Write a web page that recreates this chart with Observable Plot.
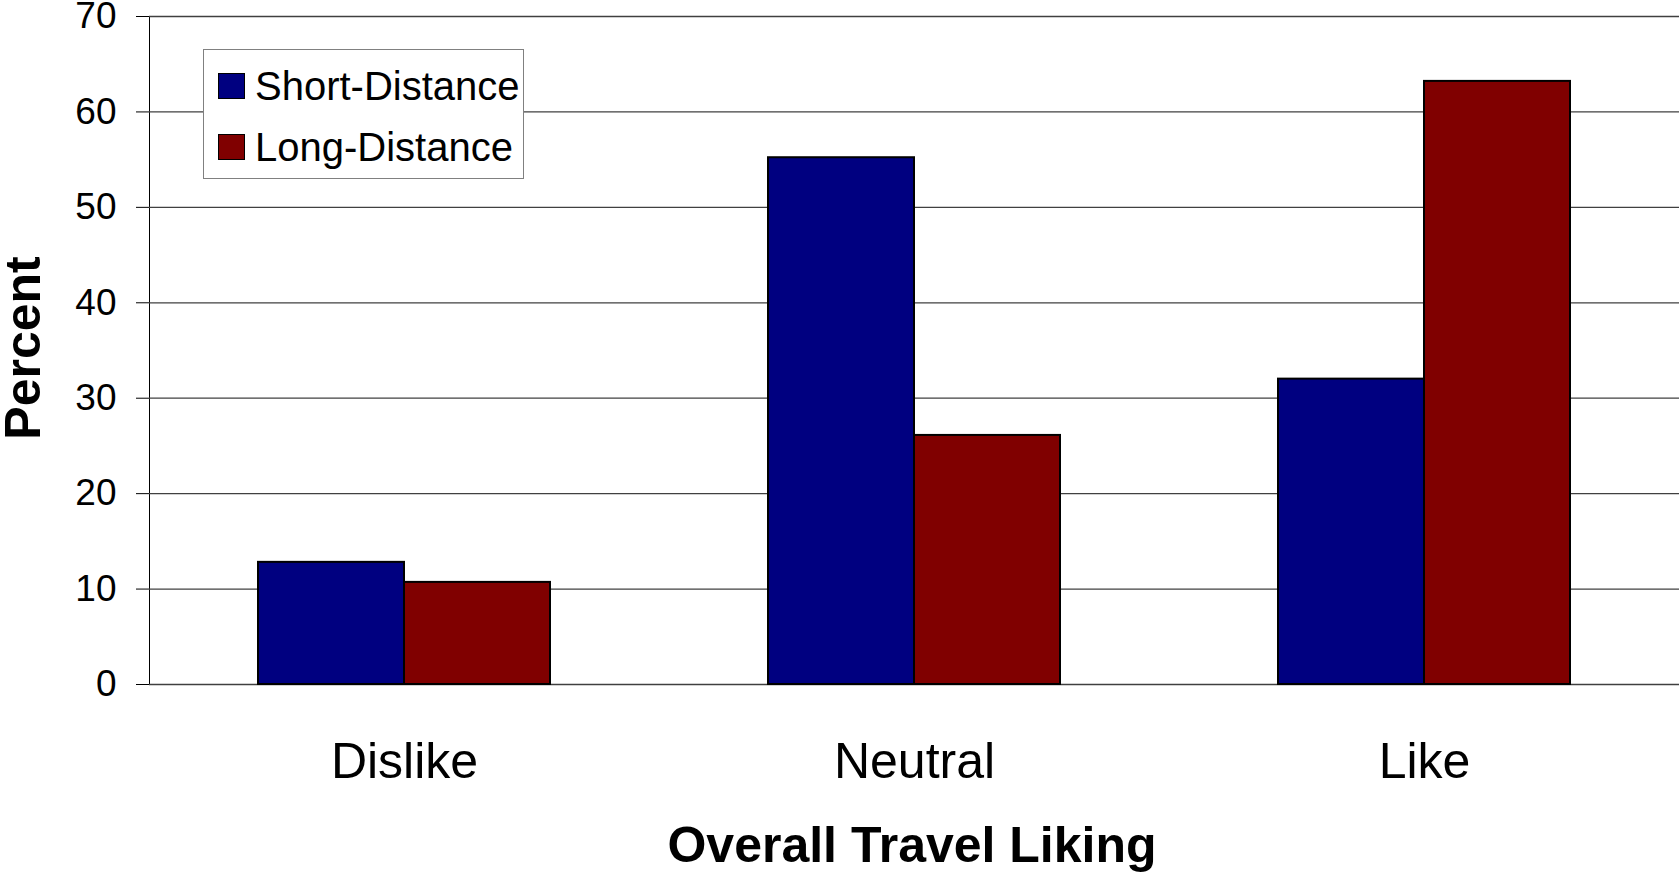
<!DOCTYPE html>
<html>
<head>
<meta charset="utf-8">
<script src="https://cdn.jsdelivr.net/npm/d3@7"></script>
<script src="https://cdn.jsdelivr.net/npm/@observablehq/plot@0.6"></script>
<style>
  html, body { margin: 0; padding: 0; background: #fff; }
  #wrap { position: relative; width: 1679px; height: 873px; font-family: "Liberation Sans", Arial, sans-serif; color: #000; }
  #wrap svg { position: absolute; left: 0; top: 0; }
  .title { position: absolute; font-weight: bold; font-size: 50px; line-height: 1; white-space: nowrap; }
  #ytitle { left: 23px; top: 348px; transform: translate(-50%, -50%) rotate(-90deg); }
  #xtitle { left: 912px; top: 845px; transform: translate(-50%, -50%); }
  #legend { position: absolute; left: 203px; top: 49px; width: 319px; height: 128px; background: #fff; border: 1px solid #808080; }
  .item { position: absolute; left: 14px; height: 28px; display: flex; align-items: center; font-size: 40px; line-height: 1; white-space: nowrap; }
  .sw { width: 25px; height: 24px; border: 1.5px solid #000; margin-right: 10px; flex: none; }
</style>
</head>
<body>
<div id="wrap"></div>
<script>
// Share of respondents by overall travel liking, short- vs long-distance trips
const categories = ["Dislike", "Neutral", "Like"];
const series = ["Short-Distance", "Long-Distance"];
const shortDistance = [12.8, 55.2, 32.0];
const longDistance = [10.7, 26.1, 63.2];
const seriesColors = ["#000080", "#800000"];
const yTicks = [0, 10, 20, 30, 40, 50, 60, 70];

const rows = categories.flatMap((c, i) => [
  {category: c, series: series[0], value: shortDistance[i]},
  {category: c, series: series[1], value: longDistance[i]}
]);

const chart = Plot.plot({
  width: 1679,
  height: 873,
  marginLeft: 148,
  marginRight: 0,
  marginTop: 16,
  marginBottom: 189,
  style: {fontFamily: "'Liberation Sans', Arial, sans-serif", fontSize: "37px", color: "#000", background: "transparent", overflow: "visible"},
  fx: {domain: categories, padding: 0, axis: null},
  x: {domain: series, paddingInner: 0, paddingOuter: 0.74, axis: null},
  y: {domain: [0, 70], ticks: yTicks, tickSize: 13, tickPadding: 20, label: null, line: true},
  color: {domain: series, range: seriesColors},
  marks: [
    Plot.ruleY(yTicks, {stroke: "#404040", strokeWidth: 1.3}),
    Plot.barY(rows, {fx: "category", x: "series", y: "value", fill: "series", stroke: "#000", strokeWidth: 2}),
    Plot.text(categories, {fx: d => d, text: d => d, frameAnchor: "bottom", dy: 77, fontSize: 50, lineAnchor: "middle"})
  ]
});
const wrap = document.getElementById("wrap");
wrap.appendChild(chart);

const yTitle = document.createElement("div");
yTitle.className = "title"; yTitle.id = "ytitle"; yTitle.textContent = "Percent";
wrap.appendChild(yTitle);
const xTitle = document.createElement("div");
xTitle.className = "title"; xTitle.id = "xtitle"; xTitle.textContent = "Overall Travel Liking";
wrap.appendChild(xTitle);

const legend = document.createElement("div");
legend.id = "legend";
series.forEach((s, i) => {
  const item = document.createElement("div");
  item.className = "item";
  item.style.top = (i === 0 ? 22 : 83) + "px";
  const sw = document.createElement("span");
  sw.className = "sw";
  sw.style.background = seriesColors[i];
  item.appendChild(sw);
  item.appendChild(document.createTextNode(s));
  legend.appendChild(item);
});
wrap.appendChild(legend);
</script>
</body>
</html>
